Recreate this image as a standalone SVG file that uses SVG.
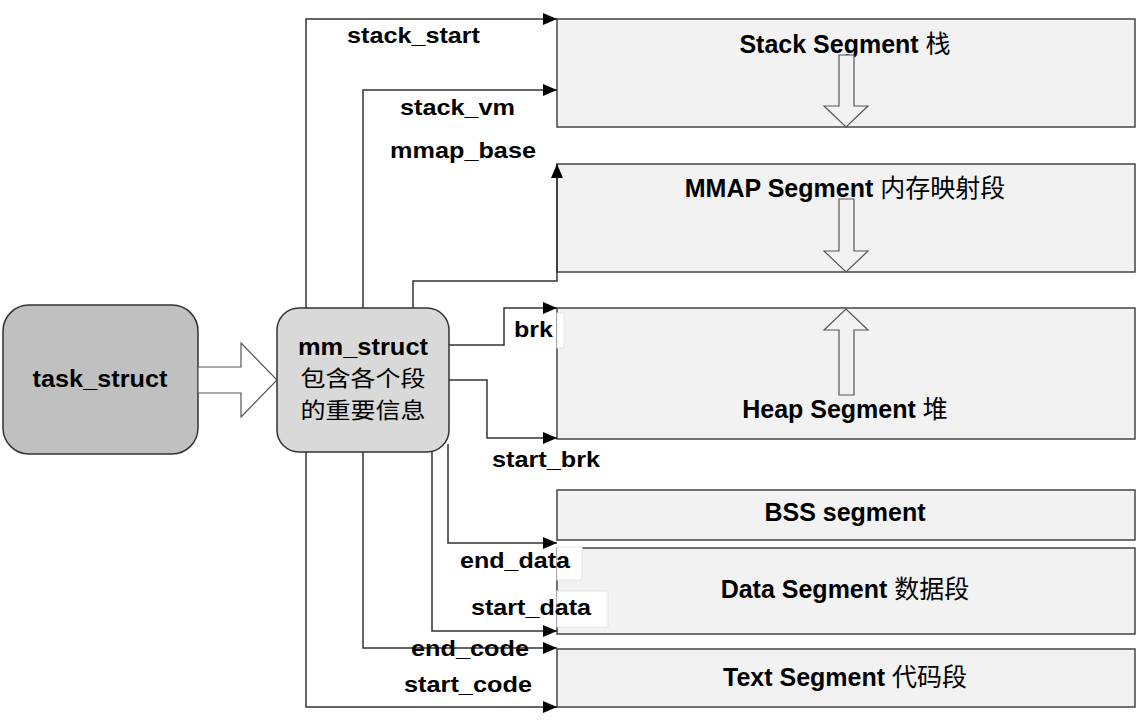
<svg xmlns="http://www.w3.org/2000/svg" width="1137" height="727" viewBox="0 0 1137 727">
<defs>
<marker id="ah" markerUnits="userSpaceOnUse" markerWidth="14" markerHeight="12" refX="14" refY="6" orient="auto">
<path d="M0,0 L14,6 L0,12 Z" fill="#000"/>
</marker>
<style>
.seg{fill:#f2f2f2;stroke:#444;stroke-width:1.5}
.lbl{font-family:"Liberation Sans",Arial,"Noto Sans CJK SC",sans-serif;font-weight:bold;font-size:22px;fill:#000}
.slbl{font-family:"Liberation Sans",Arial,"Noto Sans CJK SC",sans-serif;font-weight:bold;font-size:25px;fill:#000;text-anchor:middle}
.cjk{font-family:"Noto Sans CJK SC",sans-serif;font-weight:normal}
.con{fill:none;stroke:#333;stroke-width:1.5}
.blk{fill:#f2f2f2;stroke:#555;stroke-width:1.2}
.tagbox{fill:#fff;stroke:#e4e4e4;stroke-width:1}
</style>
</defs>
<rect width="1137" height="727" fill="#fff"/>

<g id="stack-segment">
<rect class="seg" x="557" y="19" width="578" height="108"/>
<text class="slbl" x="845" y="53">Stack Segment <tspan class="cjk">栈</tspan></text>
<polygon class="blk" points="839,55 854,55 854,106 868,106 846,127 824,106 839,106"/>
</g>
<g id="mmap-segment">
<rect class="seg" x="557" y="164" width="578" height="108"/>
<text class="slbl" x="845" y="197">MMAP Segment <tspan class="cjk">内存映射段</tspan></text>
<polygon class="blk" points="839,199 854,199 854,251 868,251 846,272 824,251 839,251"/>
</g>
<g id="heap-segment">
<rect class="seg" x="557" y="308" width="578" height="131"/>
<polygon class="blk" points="839,395 854,395 854,330 868,330 846,309 824,330 839,330"/>
<text class="slbl" x="845" y="418">Heap Segment <tspan class="cjk">堆</tspan></text>
</g>
<g id="bss-segment">
<rect class="seg" x="557" y="490" width="578" height="50"/>
<text class="slbl" x="845" y="521">BSS segment</text>
</g>
<g id="data-segment">
<rect class="seg" x="557" y="548" width="578" height="86"/>
<text class="slbl" x="845" y="598">Data Segment <tspan class="cjk">数据段</tspan></text>
</g>
<g id="text-segment">
<rect class="seg" x="557" y="649" width="578" height="58"/>
<text class="slbl" x="845" y="686">Text Segment <tspan class="cjk">代码段</tspan></text>
</g>

<g id="task-struct">
<rect x="3" y="305" width="195" height="149" rx="26" fill="#c0c0c0" stroke="#333" stroke-width="1.5"/>
<text class="lbl" x="100" y="387" text-anchor="middle" textLength="135" lengthAdjust="spacingAndGlyphs" style="font-size:24px">task_struct</text>
</g>

<g id="block-arrow">
<polygon points="198,367 241,367 241,343 277,380 241,417 241,393 198,393" fill="#fff" stroke="#555" stroke-width="1.2"/>
</g>

<g id="mm-struct">
<rect x="277" y="308" width="172" height="144" rx="22" fill="#d9d9d9" stroke="#333" stroke-width="1.5"/>
<text class="lbl" x="363" y="355" text-anchor="middle" textLength="130" lengthAdjust="spacingAndGlyphs" style="font-size:24px">mm_struct</text>
<text class="lbl cjk" x="363" y="386" text-anchor="middle" textLength="125" lengthAdjust="spacingAndGlyphs" style="font-size:22px">包含各个段</text>
<text class="lbl cjk" x="363" y="418" text-anchor="middle" textLength="125" lengthAdjust="spacingAndGlyphs" style="font-size:22px">的重要信息</text>
</g>

<g id="connectors">
<polyline class="con" points="306,308 306,19 557,19" marker-end="url(#ah)"/>
<polyline class="con" points="363,308 363,90 557,90" marker-end="url(#ah)"/>
<polyline class="con" points="413,308 413,281 557,281 557,164" marker-end="url(#ah)"/>
<polyline class="con" points="449,345 504,345 504,308 557,308" marker-end="url(#ah)"/>
<polyline class="con" points="449,380 487,380 487,438 557,438" marker-end="url(#ah)"/>
<polyline class="con" points="448,444 448,543 557,543" marker-end="url(#ah)"/>
<polyline class="con" points="432,452 432,631 557,631" marker-end="url(#ah)"/>
<polyline class="con" points="363,452 363,648 557,648" marker-end="url(#ah)"/>
<polyline class="con" points="306,452 306,707 557,707" marker-end="url(#ah)"/>
</g>

<g id="labels">
<rect class="tagbox" x="557" y="313" width="7" height="35"/>
<rect class="tagbox" x="557" y="547" width="25" height="33"/>
<rect class="tagbox" x="557" y="591" width="51" height="36"/>
<text class="lbl" x="347" y="43" textLength="133" lengthAdjust="spacingAndGlyphs">stack_start</text>
<text class="lbl" x="400" y="115" textLength="115" lengthAdjust="spacingAndGlyphs">stack_vm</text>
<text class="lbl" x="390" y="158" textLength="146" lengthAdjust="spacingAndGlyphs">mmap_base</text>
<text class="lbl" x="514" y="337" textLength="39" lengthAdjust="spacingAndGlyphs">brk</text>
<text class="lbl" x="492" y="467" textLength="108" lengthAdjust="spacingAndGlyphs">start_brk</text>
<text class="lbl" x="460" y="568" textLength="110" lengthAdjust="spacingAndGlyphs">end_data</text>
<text class="lbl" x="471" y="615" textLength="120" lengthAdjust="spacingAndGlyphs">start_data</text>
<text class="lbl" x="411" y="656" textLength="118" lengthAdjust="spacingAndGlyphs">end_code</text>
<text class="lbl" x="404" y="692" textLength="128" lengthAdjust="spacingAndGlyphs">start_code</text>
</g>
</svg>
